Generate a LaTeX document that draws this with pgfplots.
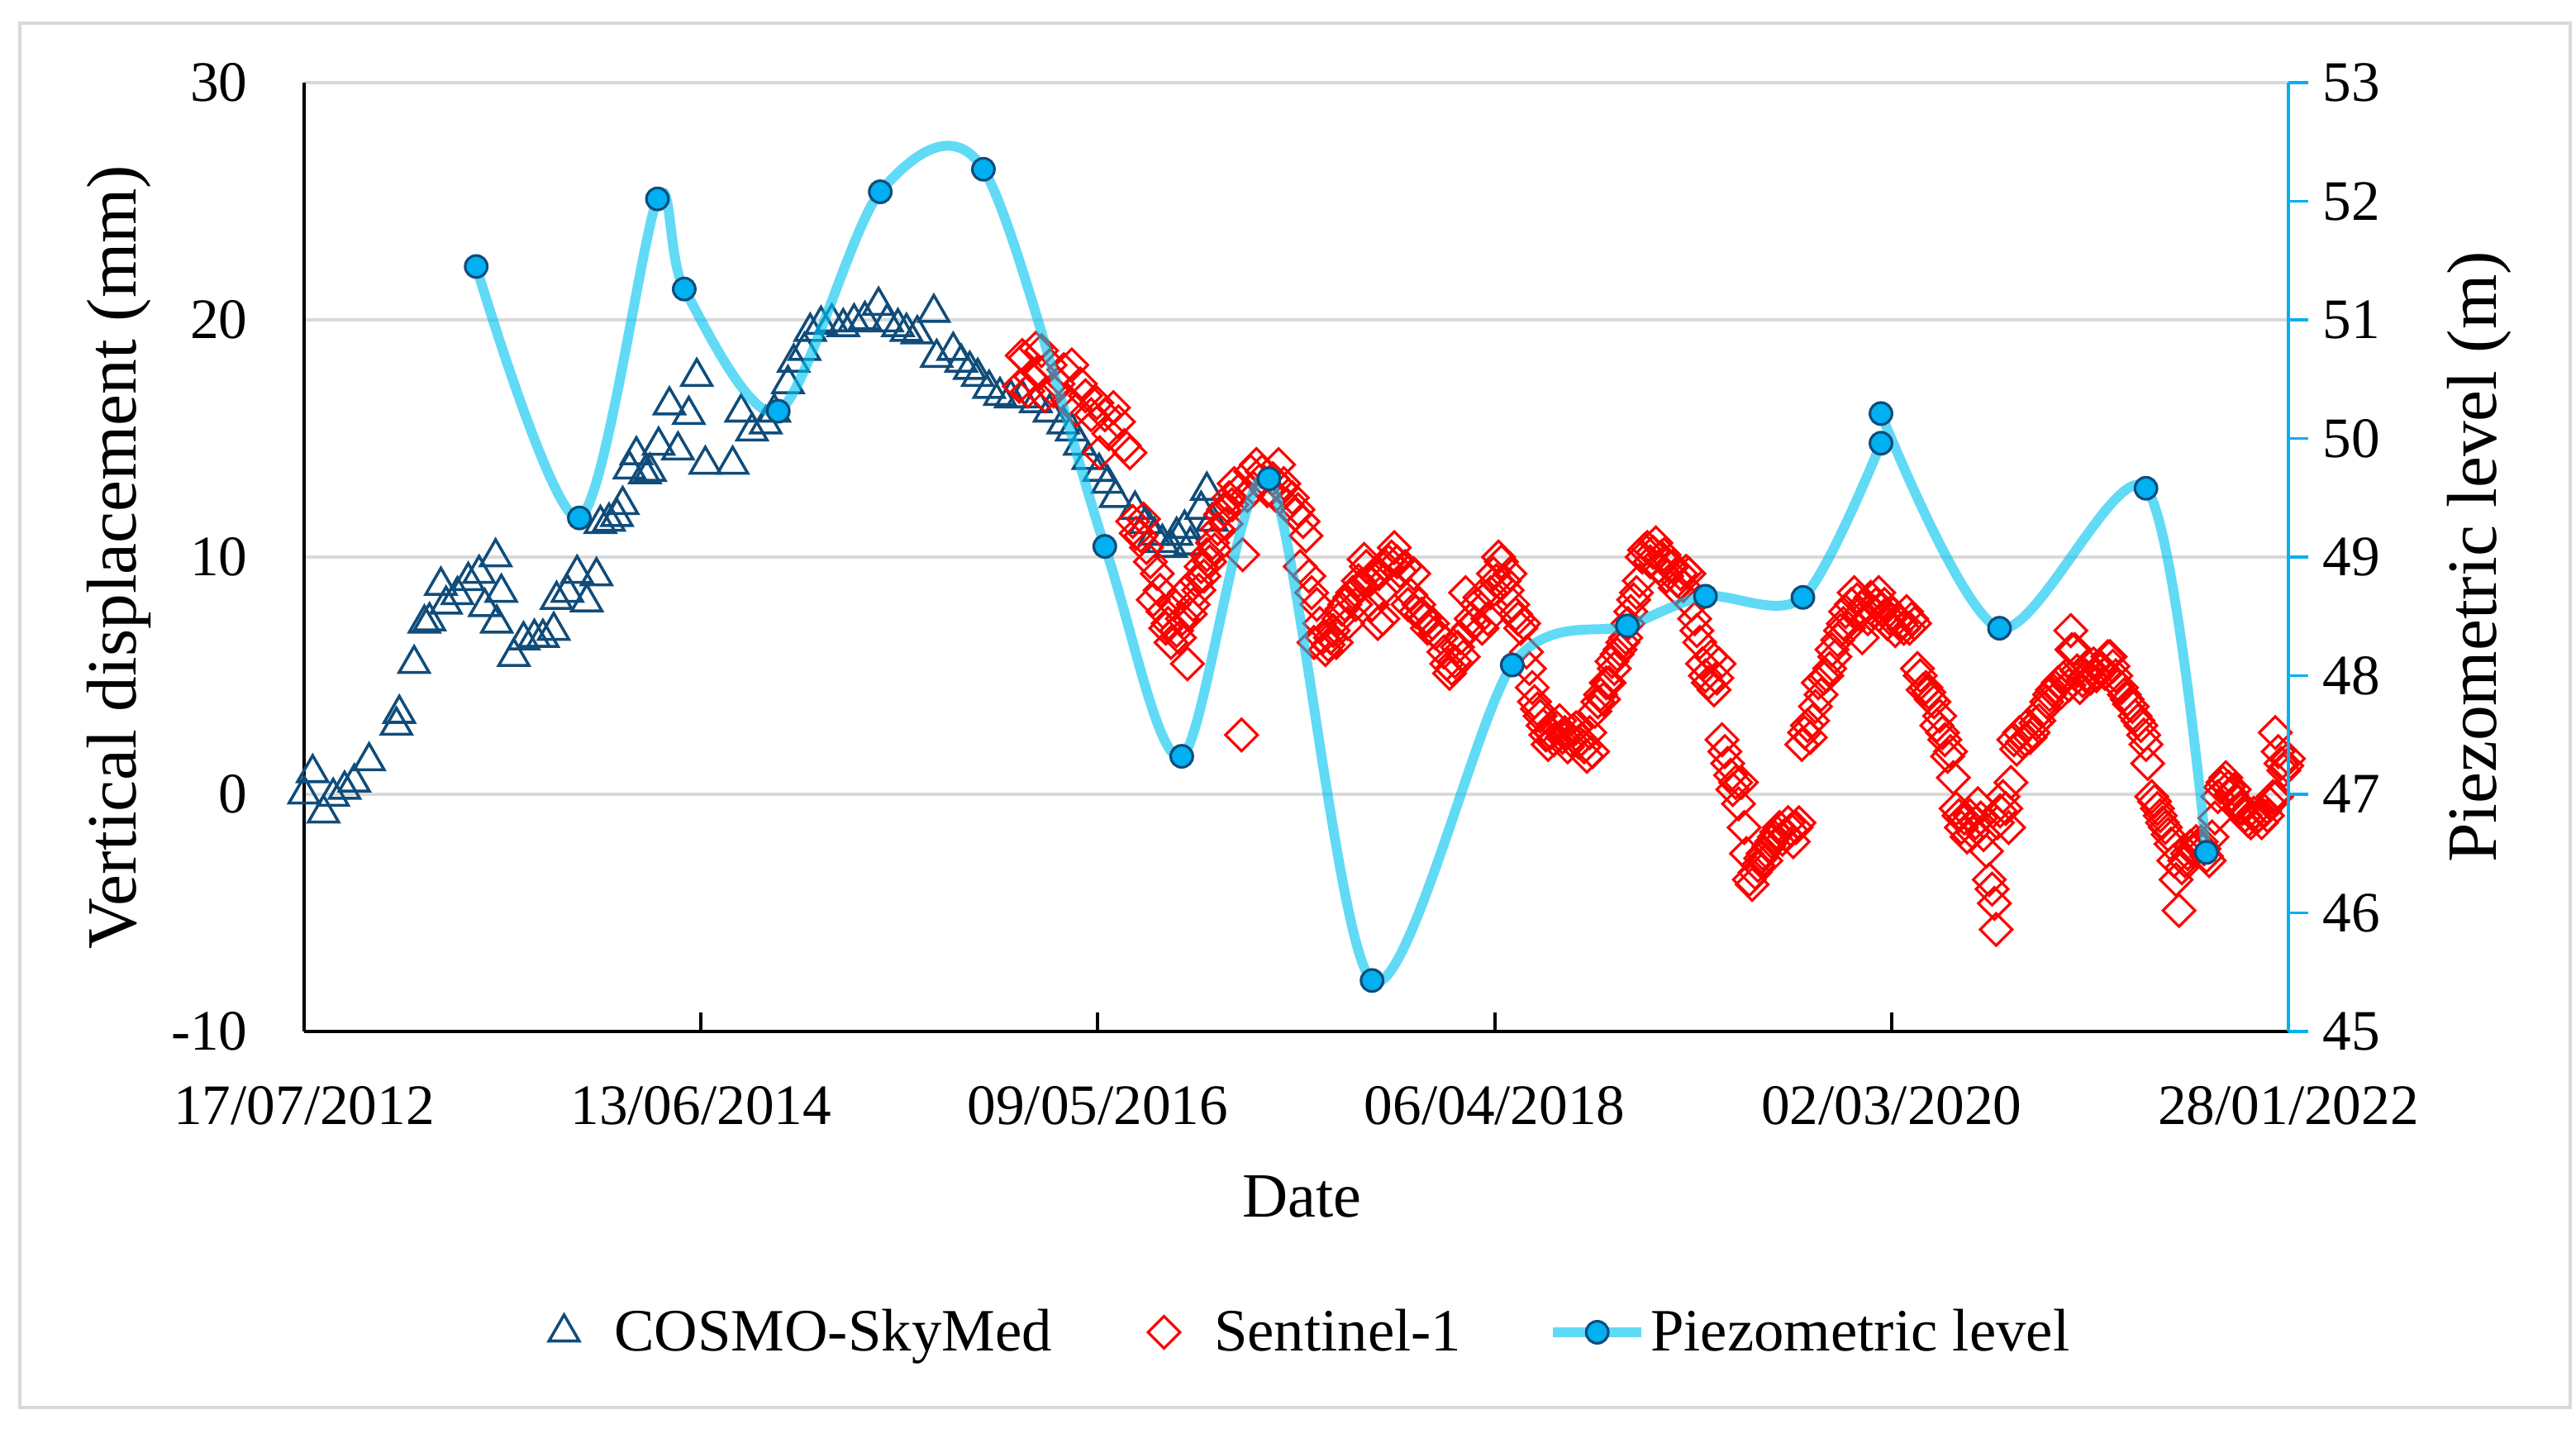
\documentclass[border=0pt]{standalone}
\usepackage{pgfplots}
\pgfplotsset{compat=1.18}
\usepackage{pgfplotstable}
\usepackage{fontspec}
\setmainfont{Liberation Serif}

\definecolor{cosmo}{RGB}{16,76,122}
\definecolor{piezo}{RGB}{0,176,240}
\definecolor{piezoline}{RGB}{0,195,240}

\pgfplotsset{
  mark legend/.style={legend image code/.code={%
    \path (0cm,0cm) (0.85cm,0cm);
    \draw[##1] plot coordinates {(0.3cm,0cm)};}},
  piezo legend/.style={legend image code/.code={%
    \draw[mark repeat=2, mark phase=2, ##1] plot coordinates {(0cm,0cm) (0.535cm,0cm) (1.07cm,0cm)};}},
  piezo style/.style={smooth, tension=0.5, color=piezoline, draw opacity=0.62, line width=3.4pt,
    mark=*, mark size=3.8pt,
    mark options={solid, fill=piezo, draw=cosmo, line width=0.9pt, draw opacity=1, fill opacity=1}},
}

% days since 17/07/2012, vertical displacement (mm)
\pgfplotstableread{
day disp
0 0.0
15 0.9
34 -0.8
51 -0.1
71 0.2
88 0.5
114 1.4
162 2.9
167 3.4
193 5.5
211 7.2
220 7.3
240 8.8
249 8.0
269 8.4
288 9.0
307 9.3
317 7.9
336 10.0
338 7.2
346 8.5
368 5.8
385 6.5
404 6.6
419 6.6
438 6.9
443 8.2
462 8.5
479 9.3
496 8.1
513 9.2
520 11.4
535 11.5
549 11.7
559 12.2
571 13.7
583 14.3
598 13.5
607 13.6
622 14.7
641 16.4
656 14.5
675 16.0
689 17.6
704 13.9
752 13.9
767 16.1
786 15.3
810 15.6
825 16.1
849 17.3
859 18.2
878 18.7
888 19.5
907 19.8
926 19.9
946 19.7
965 19.9
984 20.0
1008 20.6
1023 19.9
1042 19.7
1057 19.5
1076 19.4
1105 20.3
1110 18.4
1139 18.7
1153 18.2
1168 17.9
1182 17.6
1202 17.1
1221 16.8
1240 16.7
1260 16.7
1284 16.5
1308 16.1
1332 15.6
1347 15.3
1361 14.7
1376 14.1
1395 13.6
1410 13.1
1424 12.5
1458 12.0
1477 11.4
1492 10.9
1506 10.6
1521 10.4
1531 10.9
1545 11.2
1555 10.5
1574 12.0
1584 12.8
1593 11.5
}\cosmotab

\pgfplotstableread{
day disp
1255 17.2
1260 18.5
1265 18.4
1270 17.0
1275 17.6
1284 18.8
1290 17.8
1294 18.7
1300 16.8
1309 18.1
1315 17.0
1323 17.3
1333 17.9
1340 16.6
1347 18.1
1355 16.2
1362 17.3
1371 16.8
1381 16.0
1391 16.5
1396 14.4
1405 16.0
1412 15.2
1420 16.3
1429 15.7
1439 14.7
1449 14.4
1454 11.5
1460 11.0
1468 10.9
1473 11.6
1478 10.4
1485 9.8
1490 8.2
1497 9.3
1502 8.6
1507 7.7
1512 7.0
1516 7.2
1521 6.4
1526 8.0
1531 6.9
1536 6.6
1541 7.4
1545 8.5
1550 5.5
1555 7.6
1560 8.0
1565 9.0
1570 8.6
1574 9.6
1579 9.2
1584 10.1
1589 9.8
1594 10.6
1598 10.3
1603 11.2
1608 11.8
1613 12.0
1618 11.4
1623 12.5
1628 12.2
1632 13.1
1640 12.8
1645 2.5
1647 10.1
1655 12.6
1661 13.6
1666 12.9
1671 13.9
1676 13.2
1681 13.6
1690 12.8
1700 13.3
1705 12.6
1710 13.9
1715 12.9
1719 13.1
1725 12.2
1734 12.5
1739 11.8
1744 12.0
1748 9.6
1753 11.5
1758 10.9
1763 9.2
1768 8.5
1772 6.4
1777 8.0
1782 7.2
1787 6.6
1792 6.1
1797 6.3
1801 6.6
1806 6.9
1811 6.4
1816 7.4
1821 7.8
1826 8.0
1831 7.2
1835 8.3
1840 8.5
1845 8.0
1850 9.0
1855 8.8
1860 9.9
1864 9.6
1869 9.0
1874 8.0
1879 9.3
1884 7.2
1886 9.3
1889 8.5
1893 7.4
1898 9.6
1903 9.8
1908 10.0
1913 10.4
1918 9.8
1923 9.4
1932 9.6
1937 8.0
1942 8.4
1947 9.3
1951 7.7
1956 8.0
1961 7.6
1966 7.4
1971 7.0
1980 7.2
1985 6.8
1995 6.6
2000 6.0
2005 5.5
2010 5.1
2014 5.3
2019 5.6
2024 6.2
2029 6.6
2034 5.8
2038 8.5
2043 7.0
2048 7.4
2053 7.2
2058 8.0
2063 8.3
2067 7.0
2077 7.4
2082 8.5
2087 9.3
2092 9.0
2096 10.0
2101 9.8
2106 9.0
2111 8.6
2116 9.3
2121 8.0
2126 7.6
2130 7.4
2135 7.0
2140 7.2
2145 6.0
2150 5.3
2155 4.5
2159 3.9
2164 3.6
2169 3.3
2174 2.9
2179 2.5
2183 2.1
2188 2.6
2193 2.3
2198 2.8
2203 3.1
2208 2.4
2212 2.6
2217 2.0
2222 2.3
2227 2.7
2232 2.8
2236 2.2
2241 2.3
2246 2.0
2251 1.6
2256 2.6
2261 1.8
2265 3.5
2270 3.9
2275 4.2
2280 4.0
2285 4.7
2290 4.7
2295 5.6
2299 5.3
2304 5.9
2309 6.1
2314 6.4
2319 6.6
2323 7.2
2328 7.7
2333 8.2
2338 8.5
2343 9.0
2348 10.0
2352 10.3
2357 10.4
2362 9.8
2367 10.2
2372 10.6
2377 9.6
2381 10.0
2386 10.1
2391 9.2
2396 9.6
2401 9.6
2406 8.7
2410 9.0
2415 9.3
2420 8.8
2425 9.4
2430 9.3
2435 8.0
2440 7.4
2444 6.9
2449 6.4
2454 5.5
2459 5.0
2464 4.7
2469 5.8
2474 4.4
2479 4.9
2483 5.5
2488 2.3
2493 1.8
2498 1.3
2503 0.8
2507 0.2
2512 0.5
2517 -0.4
2522 0.5
2527 -1.4
2531 -2.5
2536 -3.6
2541 -3.8
2546 -3.3
2551 -3.0
2556 -2.7
2560 -2.5
2565 -2.8
2570 -2.2
2575 -2.0
2580 -1.8
2584 -1.6
2589 -1.4
2594 -1.9
2599 -1.7
2604 -1.2
2609 -1.5
2613 -2.0
2618 -1.4
2623 -1.2
2628 2.1
2633 2.6
2638 2.9
2643 2.4
2647 3.1
2652 3.7
2657 4.7
2662 4.2
2667 4.9
2672 5.0
2677 5.3
2681 6.1
2686 5.8
2691 6.5
2696 6.9
2701 7.2
2705 7.7
2710 7.0
2715 8.0
2720 8.5
2725 8.2
2729 7.6
2734 6.6
2739 8.0
2744 7.4
2749 8.3
2754 7.7
2758 8.0
2763 8.5
2768 7.8
2773 8.0
2778 7.2
2783 7.4
2788 7.6
2792 6.9
2797 7.4
2802 7.2
2807 7.0
2812 7.7
2817 7.0
2821 7.4
2826 7.2
2831 5.3
2836 5.0
2841 4.4
2846 4.5
2851 4.3
2855 4.0
2860 3.9
2865 2.9
2870 3.3
2875 2.6
2879 2.3
2884 1.6
2889 1.8
2894 0.7
2899 -0.6
2904 -0.9
2908 -1.4
2913 -1.0
2918 -1.8
2923 -0.9
2928 -1.6
2933 -1.2
2937 -0.4
2942 -1.0
2947 -1.7
2952 -2.4
2957 -3.6
2962 -4.0
2966 -4.6
2969 -5.7
2971 -1.2
2976 -0.7
2981 -0.1
2986 -0.6
2991 -1.4
2995 0.5
3000 2.3
3005 1.9
3010 2.6
3015 2.2
3020 2.3
3024 2.9
3029 2.4
3034 2.6
3039 3.0
3044 3.1
3049 3.5
3053 3.6
3058 3.9
3063 4.2
3068 4.4
3073 4.5
3078 4.7
3083 4.3
3087 4.9
3092 5.0
3097 4.6
3100 6.9
3102 6.1
3107 6.1
3111 5.2
3116 4.5
3121 4.8
3126 5.0
3131 5.4
3135 4.9
3140 5.5
3145 5.0
3150 5.3
3155 5.3
3160 5.1
3165 5.8
3169 5.8
3174 5.4
3179 5.0
3184 4.6
3189 4.5
3194 4.2
3199 4.0
3203 3.8
3208 3.7
3213 3.3
3218 3.1
3223 2.9
3228 2.5
3232 2.1
3235 1.3
3242 -0.1
3247 -0.3
3252 -0.6
3257 -0.9
3261 -1.2
3266 -1.4
3271 -1.7
3276 -2.1
3281 -2.8
3285 -3.6
3290 -4.9
3295 -3.1
3300 -2.8
3305 -2.5
3310 -2.2
3315 -2.4
3320 -2.0
3325 -2.2
3329 -2.0
3334 -2.3
3338 -2.6
3343 -2.8
3348 -1.8
3353 -1.0
3358 -0.1
3363 0.3
3367 0.5
3372 0.7
3377 0.3
3382 0.0
3387 0.2
3392 -0.3
3396 -0.6
3401 -0.6
3406 -0.9
3411 -1.1
3416 -1.2
3421 -0.8
3425 -1.0
3430 -0.9
3435 -1.2
3440 -0.7
3445 -0.9
3450 -0.4
3455 -0.1
3459 2.6
3461 -0.1
3464 1.8
3469 1.3
3474 1.0
3479 1.2
3482 1.5
}\sentineltab

% days since 17/07/2012, piezometric level (m); two readings on the same day split the curve
\pgfplotstableread{
day level
302 51.45
483 49.33
620 52.02
667 51.26
832 50.23
1011 52.08
1192 52.27
1405 49.09
1540 47.32
1693 49.66
1874 45.43
2120 48.09
2322 48.42
2459 48.67
2630 48.66
2767 49.96
}\piezoa

\pgfplotstableread{
day level
2767 50.21
2975 48.40
3232 49.58
3338 46.51
}\piezob

\begin{document}
\begin{tikzpicture}
\path[use as bounding box] (0,0) rectangle (311.7mm,-172.8mm);
\draw[black!15, line width=1.4pt] (2.4mm,-2.8mm) rectangle (311mm,-170.3mm);

\begin{axis}[
  at={(36.8mm,-124.8mm)}, anchor=south west,
  scale only axis, width=240.1mm, height=114.8mm,
  xmin=0, xmax=3482, ymin=-10, ymax=30,
  axis y line*=left, axis x line*=bottom,
  axis line style={black, line width=1.1pt},
  xtick={0,696.4,1392.8,2089.2,2785.6,3482},
  xticklabels={17/07/2012,13/06/2014,09/05/2016,06/04/2018,02/03/2020,28/01/2022},
  ytick={-10,0,10,20,30},
  yticklabels={-10,0,10,20,30},
  xtick align=inside, major tick length=2.3mm,
  xtick style={black, line width=1.1pt},
  ytick style={draw=none},
  ymajorgrids, major grid style={black!15, line width=0.9pt},
  tick label style={font=\fontsize{19.7}{22}\selectfont},
  xticklabel style={anchor=base, yshift=-11.2mm},
  yticklabel style={anchor=east, inner xsep=0pt, xshift=-6.8mm},
  xlabel={Date},
  ylabel={Vertical displacement (mm)},
  xlabel style={at={(axis description cs:0.503,-0.1742)}, anchor=center,
    font=\fontsize{21.7}{25}\selectfont},
  ylabel style={at={(axis description cs:-0.0933,0.5)}, anchor=center,
    font=\fontsize{24.3}{28}\selectfont},
  clip=false,
]
\addplot[only marks, mark=triangle, mark size=6pt, color=cosmo,
  mark options={line width=1pt}] table[x=day, y=disp] {\cosmotab};
\addplot[only marks, mark=square, mark size=3.9pt, color=red,
  mark options={rotate=45, line width=0.9pt}] table[x=day, y=disp] {\sentineltab};
\end{axis}

\begin{axis}[
  at={(36.8mm,-124.8mm)}, anchor=south west,
  scale only axis, width=240.1mm, height=114.8mm,
  xmin=0, xmax=3482, ymin=45, ymax=53,
  axis x line=none, axis y line*=right,
  axis line style={piezo, line width=1.2pt},
  ytick={45,46,47,48,49,50,51,52,53},
  yticklabels={45,46,47,48,49,50,51,52,53},
  ytick align=outside, major tick length=2.4mm,
  ytick style={piezo, line width=1.1pt},
  tick label style={font=\fontsize{19.7}{22}\selectfont},
  yticklabel style={anchor=west, inner xsep=0pt, xshift=1.7mm},
  ylabel={Piezometric level (m)},
  ylabel style={at={(axis description cs:1.0962,0.5)}, anchor=center,
    font=\fontsize{24.3}{28}\selectfont},
  clip=false,
  legend columns=3,
  legend cell align=left,
  legend style={at={(0.505,-0.317)}, anchor=center, draw=none, fill=none,
    font=\fontsize{20.7}{24}\selectfont,
    nodes={inner xsep=0.5mm},
    /tikz/every even column/.append style={column sep=10mm}},
]
\addlegendimage{only marks, mark=triangle, mark size=6pt, color=cosmo, mark options={line width=1pt}, mark legend}
\addlegendentry{COSMO-SkyMed}
\addlegendimage{only marks, mark=square, mark size=3.9pt, color=red, mark options={rotate=45, line width=0.9pt}, mark legend}
\addlegendentry{Sentinel-1}
\addplot[piezo style, piezo legend] table[x=day, y=level] {\piezoa};
\addlegendentry{Piezometric level}
\addplot[piezo style, forget plot] table[x=day, y=level] {\piezob};
\end{axis}
\end{tikzpicture}
\end{document}
